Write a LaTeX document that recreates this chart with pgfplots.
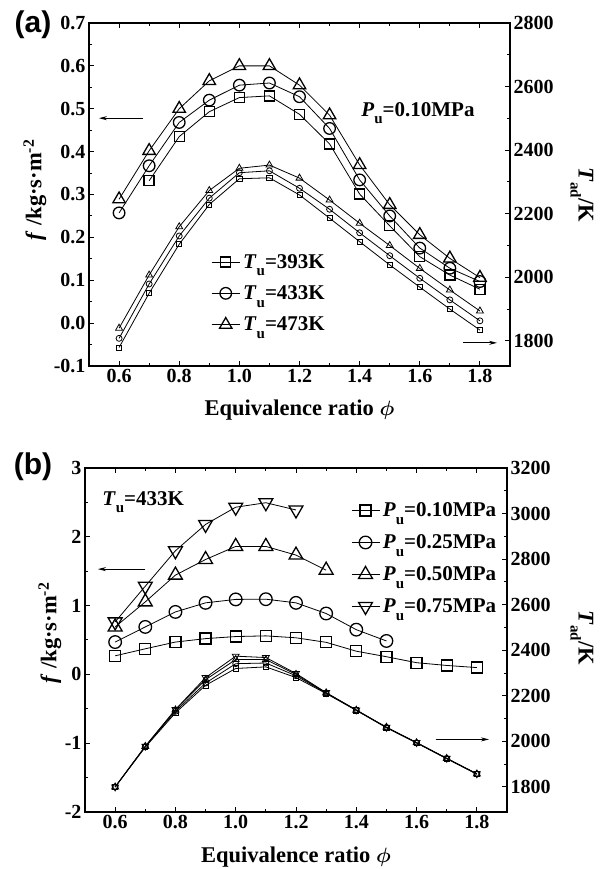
\documentclass[border=0pt]{standalone}
\usepackage{fontspec}
\setmainfont{Liberation Serif}
\newfontfamily\arialb{Liberation Sans}
\usepackage{amsmath}
\usepackage{pgfplots}
\pgfplotsset{compat=1.18}
\usetikzlibrary{arrows.meta}

\newcommand{\tickfont}{\fontsize{20}{24}\selectfont\bfseries}
\newcommand{\txtfont}{\fontsize{21}{25}\selectfont\bfseries}
\newcommand{\labfont}{\fontsize{22.5}{26}\selectfont\bfseries}
\newcommand{\sub}[1]{\raisebox{-0.36em}{\fontsize{15}{15}\selectfont\bfseries #1}}

\pgfplotsset{
  base/.style={
    scale only axis, xmin=0.5, xmax=1.9,
    tick align=inside, major tick length=5pt, minor tick length=3pt,
    axis line style={line width=1.3pt},
    every tick/.style={black, line width=1pt},
    tick label style={font=\tickfont},
    label style={font=\labfont},
    every axis plot/.append style={black, line width=0.8pt},
    legend image code/.code={\draw[mark repeat=2,mark phase=2] plot coordinates {(0pt,0pt)(14pt,0pt)(28pt,0pt)};},
  },
  bigsq/.style={mark=square, mark size=5pt, mark options={fill=white, line width=1.3pt}},
  bigci/.style={mark=o, mark size=5.8pt, mark options={fill=white, line width=1.3pt}},
  bigtr/.style={mark=triangle, mark size=7.2pt, mark options={fill=white, line width=1.3pt}},
  bigiv/.style={mark=triangle, mark size=7.5pt, mark options={fill=white, line width=1.3pt, rotate=180}},
  smsq/.style={mark=square, mark size=2.6pt, mark options={fill=white, line width=0.8pt}},
  smci/.style={mark=o, mark size=3pt, mark options={fill=white, line width=0.8pt}},
  smtr/.style={mark=triangle, mark size=4pt, mark options={fill=white, line width=0.8pt}},
  smiv/.style={mark=triangle, mark size=4pt, mark options={fill=white, line width=0.8pt, rotate=180}},
}

\begin{document}
\begin{tikzpicture}
\path[use as bounding box] (0,0) rectangle (606pt,869pt);

% ---------------- panel (a) ----------------
\begin{axis}[base, at={(89pt,846pt)}, anchor=north west, width=421pt, height=343pt,
  ymin=-0.1, ymax=0.7, ytick={-0.1,0,0.1,0.2,0.3,0.4,0.5,0.6,0.7},
  yticklabels={-0.1,0.0,0.1,0.2,0.3,0.4,0.5,0.6,0.7},
  minor y tick num=1, ytick pos=left,
  xtick={0.6,0.8,1.0,1.2,1.4,1.6,1.8}, xticklabels={0.6,0.8,1.0,1.2,1.4,1.6,1.8},
  minor x tick num=1, xticklabel pos=bottom,
  xlabel={Equivalence ratio $\boldsymbol{\phi}$},
  xlabel style={at={(axis description cs:0.5,-0.128)}, anchor=center},
  legend style={draw=none, fill=none, at={(axis description cs:0.283,0.341)}, anchor=north west,
    font=\txtfont, row sep=10pt, nodes={inner sep=3pt}},
  legend cell align=left]
\addplot[bigsq] coordinates {(0.7,0.332)(0.8,0.435)(0.9,0.493)(1.0,0.526)(1.1,0.530)(1.2,0.487)(1.3,0.418)(1.4,0.301)(1.5,0.227)(1.6,0.155)(1.7,0.112)(1.8,0.079)};
\addlegendentry{\textit{T}\sub{u}=393K}
\addplot[bigci] coordinates {(0.6,0.257)(0.7,0.367)(0.8,0.468)(0.9,0.520)(1.0,0.555)(1.1,0.560)(1.2,0.528)(1.3,0.454)(1.4,0.334)(1.5,0.250)(1.6,0.175)(1.7,0.128)(1.8,0.097)};
\addlegendentry{\textit{T}\sub{u}=433K}
\addplot[bigtr] coordinates {(0.6,0.289)(0.7,0.402)(0.8,0.500)(0.9,0.565)(1.0,0.600)(1.1,0.600)(1.2,0.555)(1.3,0.485)(1.4,0.369)(1.5,0.276)(1.6,0.206)(1.7,0.151)(1.8,0.106)};
\addlegendentry{\textit{T}\sub{u}=473K}
\draw[-{Stealth[length=8pt,width=4pt]}, line width=0.8pt] (axis cs:0.68,0.478) -- (axis cs:0.533,0.478);
\draw[-{Stealth[length=8pt,width=4pt]}, line width=0.8pt] (axis cs:1.743,-0.046) -- (axis cs:1.857,-0.046);
\node[anchor=west, inner sep=0pt, font=\txtfont] at (axis cs:1.405,0.49) {\textit{P}\sub{u}=0.10MPa};
\end{axis}

\begin{axis}[base, at={(89pt,846pt)}, anchor=north west, width=421pt, height=343pt,
  axis x line=none, axis y line*=right,
  ymin=1721, ymax=2800, ytick={1800,2000,2200,2400,2600,2800},
  yticklabels={1800,2000,2200,2400,2600,2800}, minor y tick num=1]
\addplot[smsq] coordinates {(0.6,1779)(0.7,1950)(0.8,2104)(0.9,2229)(1.0,2310)(1.1,2313)(1.2,2259)(1.3,2186)(1.4,2112)(1.5,2039)(1.6,1969)(1.7,1900)(1.8,1834)};
\addplot[smci] coordinates {(0.6,1808)(0.7,1979)(0.8,2130)(0.9,2249)(1.0,2329)(1.1,2335)(1.2,2280)(1.3,2214)(1.4,2140)(1.5,2068)(1.6,1997)(1.7,1929)(1.8,1863)};
\addplot[smtr] coordinates {(0.6,1840)(0.7,2007)(0.8,2159)(0.9,2273)(1.0,2343)(1.1,2353)(1.2,2312)(1.3,2243)(1.4,2170)(1.5,2100)(1.6,2028)(1.7,1960)(1.8,1894)};
\end{axis}

\node[font=\arialb\fontsize{30}{34}\selectfont\bfseries] at (33pt,844pt) {(a)};
\node[font=\labfont, rotate=90] at (35pt,679pt) {\textit{f} /kg·s·m\textsuperscript{-2}};
\node[font=\labfont, rotate=-90] at (582pt,674pt) {\textit{T}\sub{ad}/K};

% ---------------- panel (b) ----------------
\begin{axis}[base, at={(85pt,401pt)}, anchor=north west, width=422pt, height=344pt,
  ymin=-2, ymax=3, ytick={-2,-1,0,1,2,3}, yticklabels={-2,-1,0,1,2,3},
  minor y tick num=1, ytick pos=left,
  xtick={0.6,0.8,1.0,1.2,1.4,1.6,1.8}, xticklabels={0.6,0.8,1.0,1.2,1.4,1.6,1.8},
  minor x tick num=1, xticklabel pos=bottom,
  xlabel={Equivalence ratio $\boldsymbol{\phi}$},
  xlabel style={at={(axis description cs:0.5,-0.131)}, anchor=center},
  legend style={draw=none, fill=none, at={(axis description cs:0.623,0.914)}, anchor=north west,
    font=\txtfont, row sep=10.5pt, nodes={inner sep=3pt}},
  legend cell align=left,
  bigsq/.append style={mark size=5.5pt}, bigci/.append style={mark size=6.3pt},
  bigtr/.append style={mark size=8pt}, bigiv/.append style={mark size=8pt}]
\addplot[bigsq] coordinates {(0.6,0.270)(0.7,0.372)(0.8,0.470)(0.9,0.520)(1.0,0.550)(1.1,0.560)(1.2,0.532)(1.3,0.466)(1.4,0.337)(1.5,0.257)(1.6,0.170)(1.7,0.130)(1.8,0.099)};
\addlegendentry{\textit{P}\sub{u}=0.10MPa}
\addplot[bigci] coordinates {(0.6,0.470)(0.7,0.690)(0.8,0.908)(0.9,1.040)(1.0,1.090)(1.1,1.093)(1.2,1.040)(1.3,0.885)(1.4,0.650)(1.5,0.486)};
\addlegendentry{\textit{P}\sub{u}=0.25MPa}
\addplot[bigtr] coordinates {(0.6,0.690)(0.7,1.054)(0.8,1.443)(0.9,1.670)(1.0,1.860)(1.1,1.860)(1.2,1.734)(1.3,1.515)};
\addlegendentry{\textit{P}\sub{u}=0.50MPa}
\addplot[bigiv] coordinates {(0.6,0.763)(0.7,1.282)(0.8,1.797)(0.9,2.180)(1.0,2.430)(1.1,2.495)(1.2,2.390)};
\addlegendentry{\textit{P}\sub{u}=0.75MPa}
\draw[-{Stealth[length=8pt,width=4pt]}, line width=0.8pt] (axis cs:0.70,1.53) -- (axis cs:0.543,1.53);
\draw[-{Stealth[length=8pt,width=4pt]}, line width=0.8pt] (axis cs:1.663,-0.945) -- (axis cs:1.84,-0.945);
\node[anchor=west, inner sep=0pt, font=\txtfont] at (axis cs:0.557,2.505) {\textit{T}\sub{u}=433K};
\end{axis}

\begin{axis}[base, at={(85pt,401pt)}, anchor=north west, width=422pt, height=344pt,
  axis x line=none, axis y line*=right,
  ymin=1690, ymax=3200, ytick={1800,2000,2200,2400,2600,2800,3000,3200},
  yticklabels={1800,2000,2200,2400,2600,2800,3000,3200}, minor y tick num=1]
\addplot[smsq] coordinates {(0.6,1800)(0.7,1975)(0.8,2125)(0.9,2246)(1.0,2320)(1.1,2327)(1.2,2280)(1.3,2210)(1.4,2136)(1.5,2060)(1.6,1993)(1.7,1924)(1.8,1856)};
\addplot[smci] coordinates {(0.6,1800)(0.7,1977)(0.8,2132)(0.9,2256)(1.0,2341)(1.1,2344)(1.2,2288)(1.3,2212)(1.4,2137)(1.5,2061)(1.6,1994)(1.7,1925)(1.8,1857)};
\addplot[smtr] coordinates {(0.6,1800)(0.7,1978)(0.8,2138)(0.9,2271)(1.0,2359)(1.1,2359)(1.2,2294)(1.3,2213)(1.4,2137)(1.5,2062)(1.6,1994)(1.7,1925)(1.8,1857)};
\addplot[smiv] coordinates {(0.6,1800)(0.7,1979)(0.8,2140)(0.9,2280)(1.0,2374)(1.1,2368)(1.2,2298)(1.3,2214)(1.4,2138)(1.5,2062)(1.6,1995)(1.7,1926)(1.8,1858)};
\end{axis}

\node[font=\arialb\fontsize{30}{34}\selectfont\bfseries] at (33pt,402pt) {(b)};
\node[font=\labfont, rotate=90] at (50pt,236pt) {\textit{f} /kg·s·m\textsuperscript{-2}};
\node[font=\labfont, rotate=-90] at (582pt,231pt) {\textit{T}\sub{ad}/K};
\end{tikzpicture}
\end{document}
